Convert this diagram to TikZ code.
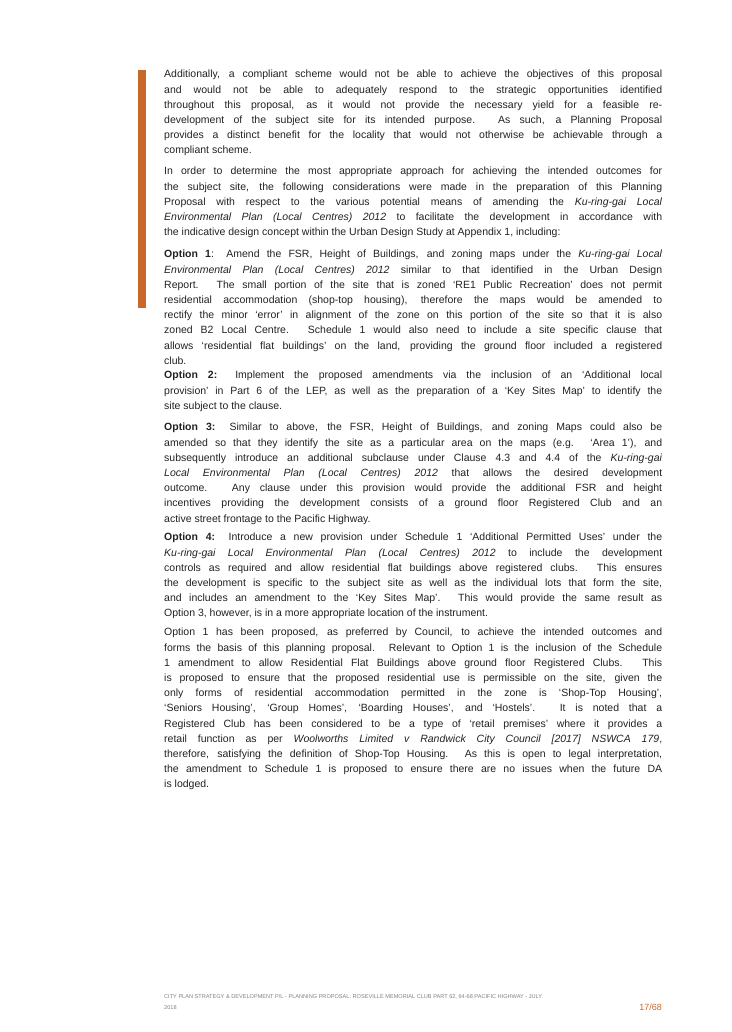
\documentclass[tikz,border=0pt]{standalone}
\usepackage{fontspec}
\setmainfont{Liberation Sans}
\definecolor{accent}{HTML}{C8692A}
\definecolor{bodytext}{HTML}{222222}
\newcommand{\lb}{\linebreak}
\tikzset{para/.style={anchor=north west,inner sep=0pt,text width=498pt,align=justify,font=\fontsize{10.5}{15.2}\selectfont,text=bodytext}}
\begin{document}
\begin{tikzpicture}[x=1pt,y=-1pt]
\useasboundingbox (0,0) rectangle (731,1032);
\fill[accent] (138,70) rectangle (146,308);
\node[para] (p1) at (164,70) {Additionally, a compliant scheme would not be able to achieve the objectives of this proposal\lb
and would not be able to adequately respond to the strategic opportunities identified\lb
throughout this proposal, as it would not provide the necessary yield for a feasible re-\lb
development of the subject site for its intended purpose. As such, a Planning Proposal\lb
provides a distinct benefit for the locality that would not otherwise be achievable through a\lb
compliant scheme.};
\node[para] (p2) at (164,167) {In order to determine the most appropriate approach for achieving the intended outcomes for\lb
the subject site, the following considerations were made in the preparation of this Planning\lb
Proposal with respect to the various potential means of amending the \textit{Ku-ring-gai Local}\lb
\textit{Environmental Plan (Local Centres) 2012} to facilitate the development in accordance with\lb
the indicative design concept within the Urban Design Study at Appendix 1, including:};
\node[para] (p3) at (164,250) {\textbf{Option 1}: Amend the FSR, Height of Buildings, and zoning maps under the \textit{Ku-ring-gai Local}\lb
\textit{Environmental Plan (Local Centres) 2012} similar to that identified in the Urban Design\lb
Report. The small portion of the site that is zoned `RE1 Public Recreation' does not permit\lb
residential accommodation (shop-top housing), therefore the maps would be amended to\lb
rectify the minor `error' in alignment of the zone on this portion of the site so that it is also\lb
zoned B2 Local Centre. Schedule 1 would also need to include a site specific clause that\lb
allows `residential flat buildings' on the land, providing the ground floor included a registered\lb
club.};
\node[para] (p4) at (164,371) {\textbf{Option 2:} Implement the proposed amendments via the inclusion of an `Additional local\lb
provision' in Part 6 of the LEP, as well as the preparation of a `Key Sites Map' to identify the\lb
site subject to the clause.};
\node[para] (p5) at (164,423) {\textbf{Option 3:} Similar to above, the FSR, Height of Buildings, and zoning Maps could also be\lb
amended so that they identify the site as a particular area on the maps (e.g. `Area 1'), and\lb
subsequently introduce an additional subclause under Clause 4.3 and 4.4 of the \textit{Ku-ring-gai}\lb
\textit{Local Environmental Plan (Local Centres) 2012} that allows the desired development\lb
outcome. Any clause under this provision would provide the additional FSR and height\lb
incentives providing the development consists of a ground floor Registered Club and an\lb
active street frontage to the Pacific Highway.};
\node[para] (p6) at (164,533) {\textbf{Option 4:} Introduce a new provision under Schedule 1 `Additional Permitted Uses' under the\lb
\textit{Ku-ring-gai Local Environmental Plan (Local Centres) 2012} to include the development\lb
controls as required and allow residential flat buildings above registered clubs. This ensures\lb
the development is specific to the subject site as well as the individual lots that form the site,\lb
and includes an amendment to the `Key Sites Map'. This would provide the same result as\lb
Option 3, however, is in a more appropriate location of the instrument.};
\node[para] (p7) at (164,628) {Option 1 has been proposed, as preferred by Council, to achieve the intended outcomes and\lb
forms the basis of this planning proposal. Relevant to Option 1 is the inclusion of the Schedule\lb
1 amendment to allow Residential Flat Buildings above ground floor Registered Clubs. This\lb
is proposed to ensure that the proposed residential use is permissible on the site, given the\lb
only forms of residential accommodation permitted in the zone is `Shop-Top Housing',\lb
`Seniors Housing', `Group Homes', `Boarding Houses', and `Hostels'. It is noted that a\lb
Registered Club has been considered to be a type of `retail premises' where it provides a\lb
retail function as per \textit{Woolworths Limited v Randwick City Council [2017] NSWCA 179},\lb
therefore, satisfying the definition of Shop-Top Housing. As this is open to legal interpretation,\lb
the amendment to Schedule 1 is proposed to ensure there are no issues when the future DA\lb
is lodged.};
\node[anchor=west,inner sep=0pt,font=\fontsize{5.6}{7}\selectfont,text=gray] (f1) at (164,997) {CITY PLAN STRATEGY \& DEVELOPMENT P/L - PLANNING PROPOSAL: ROSEVILLE MEMORIAL CLUB  PART 62, 64-68 PACIFIC HIGHWAY - JULY};
\node[anchor=west,inner sep=0pt,font=\fontsize{5.6}{7}\selectfont,text=gray] (f2) at (164,1008) {2018};
\node[anchor=east,inner sep=0pt,font=\fontsize{9}{10}\selectfont,text=accent] (pg) at (662,1007) {17/68};
\end{tikzpicture}
\end{document}
